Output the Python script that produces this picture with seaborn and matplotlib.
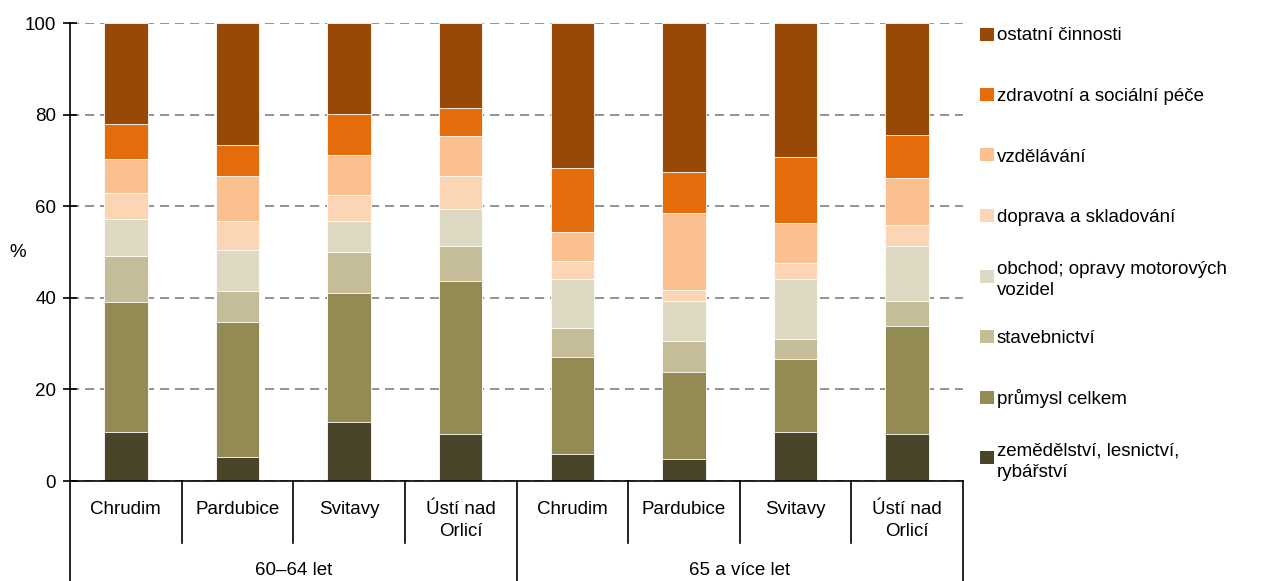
import numpy as np
import pandas as pd
import matplotlib.pyplot as plt
import seaborn as sns
from matplotlib.patches import Rectangle

districts = ["Chrudim", "Pardubice", "Svitavy", "Ústí nad\nOrlicí"]
age_groups = ["60–64 let", "65 a více let"]

sectors = ["zemědělství, lesnictví,\nrybářství", "průmysl celkem", "stavebnictví",
           "obchod; opravy motorových\nvozidel", "doprava a skladování", "vzdělávání",
           "zdravotní a sociální péče", "ostatní činnosti"]
colors = ["#4A452A", "#948A54", "#C4BD97", "#DDD9C3",
          "#FCD5B5", "#FAC090", "#E46C0A", "#984807"]

# podíly (%) - 60–64: Chrudim, Pardubice, Svitavy, Ústí; 65+: totéž
zemedelstvi = [10.8, 5.2, 12.9, 10.3, 6.0, 4.8, 10.8, 10.3]
prumysl = [28.2, 29.6, 28.1, 33.4, 21.1, 19.1, 15.9, 23.6]
stavebnictvi = [10.2, 6.7, 9.0, 7.6, 6.4, 6.7, 4.3, 5.5]
obchod = [8.0, 9.0, 6.8, 8.0, 10.7, 8.8, 13.2, 11.9]
doprava = [5.6, 6.3, 5.6, 7.3, 3.8, 2.3, 3.4, 4.7]
vzdelavani = [7.5, 9.8, 8.8, 8.8, 6.4, 16.8, 8.8, 10.1]
zdravotni = [7.6, 6.8, 8.9, 6.0, 13.9, 8.9, 14.3, 9.4]
ostatni = [22.1, 26.6, 19.9, 18.6, 31.7, 32.6, 29.3, 24.5]

shares = np.array([zemedelstvi, prumysl, stavebnictvi, obchod,
                   doprava, vzdelavani, zdravotni, ostatni])
cum = np.cumsum(shares, axis=0)

bar_keys = [f"{a}|{d}" for a in age_groups for d in districts]
df = pd.DataFrame(cum.T, columns=sectors)
df["bar"] = bar_keys

plt.rcParams['font.family'] = ['Liberation Sans', 'DejaVu Sans']
fs = 13.5

W, H = 1266, 581
fig = plt.figure(figsize=(W / 100, H / 100), dpi=100)
ax = fig.add_axes([70 / W, 1 - 481 / H, (963 - 70) / W, 458 / H])

# stacked bars: draw cumulative totals from the top down
for k in range(len(sectors) - 1, -1, -1):
    sns.barplot(data=df, x="bar", y=sectors[k], color=colors[k], saturation=1,
                width=0.39, edgecolor="white", linewidth=0.6, ax=ax)

ax.set_xlim(-0.5, 7.5)
ax.set_ylim(0, 100)
ax.set_yticks(range(0, 101, 20))
ax.yaxis.grid(True, linestyle=(0, (5.5, 3.5)), color="#808080", linewidth=1.2)
ax.set_axisbelow(True)
ax.set_xlabel("")
ax.set_ylabel("")
for s in ["top", "right"]:
    ax.spines[s].set_visible(False)
for s in ["left", "bottom"]:
    ax.spines[s].set_color("black")
    ax.spines[s].set_linewidth(1.2)
ax.tick_params(axis="y", direction="inout", length=10, width=1.2, labelsize=fs, pad=5)
ax.set_xticks(range(8))
ax.set_xticklabels(districts * 2, fontsize=fs, linespacing=1.38)
ax.tick_params(axis="x", length=0, pad=14.5)

tr = ax.get_xaxis_transform()
for i in range(9):
    x = i - 0.5
    y_end = -0.22 if i % 4 == 0 else -0.135
    ax.plot([x, x], [0, y_end], transform=tr, color="black", lw=1.2, clip_on=False)
for j, g in enumerate(age_groups):
    ax.text(1.5 + 4 * j, -0.196, g, transform=tr, ha="center", va="center", fontsize=fs)

fig.text(18 / W, 1 - 252 / H, "%", ha="center", va="center", fontsize=fs)

# legend
for i, (lab, col) in enumerate(zip(sectors[::-1], colors[::-1])):
    yc = 34 + i * 60.5
    fig.add_artist(Rectangle((980 / W, 1 - (yc + 6.5) / H), 14 / W, 13 / H,
                             transform=fig.transFigure, facecolor=col, edgecolor="none"))
    fig.text(997 / W, 1 - yc / H, lab, ha="left", va="center_baseline",
             fontsize=fs, linespacing=1.31)

fig.savefig("out.png", dpi=100)
